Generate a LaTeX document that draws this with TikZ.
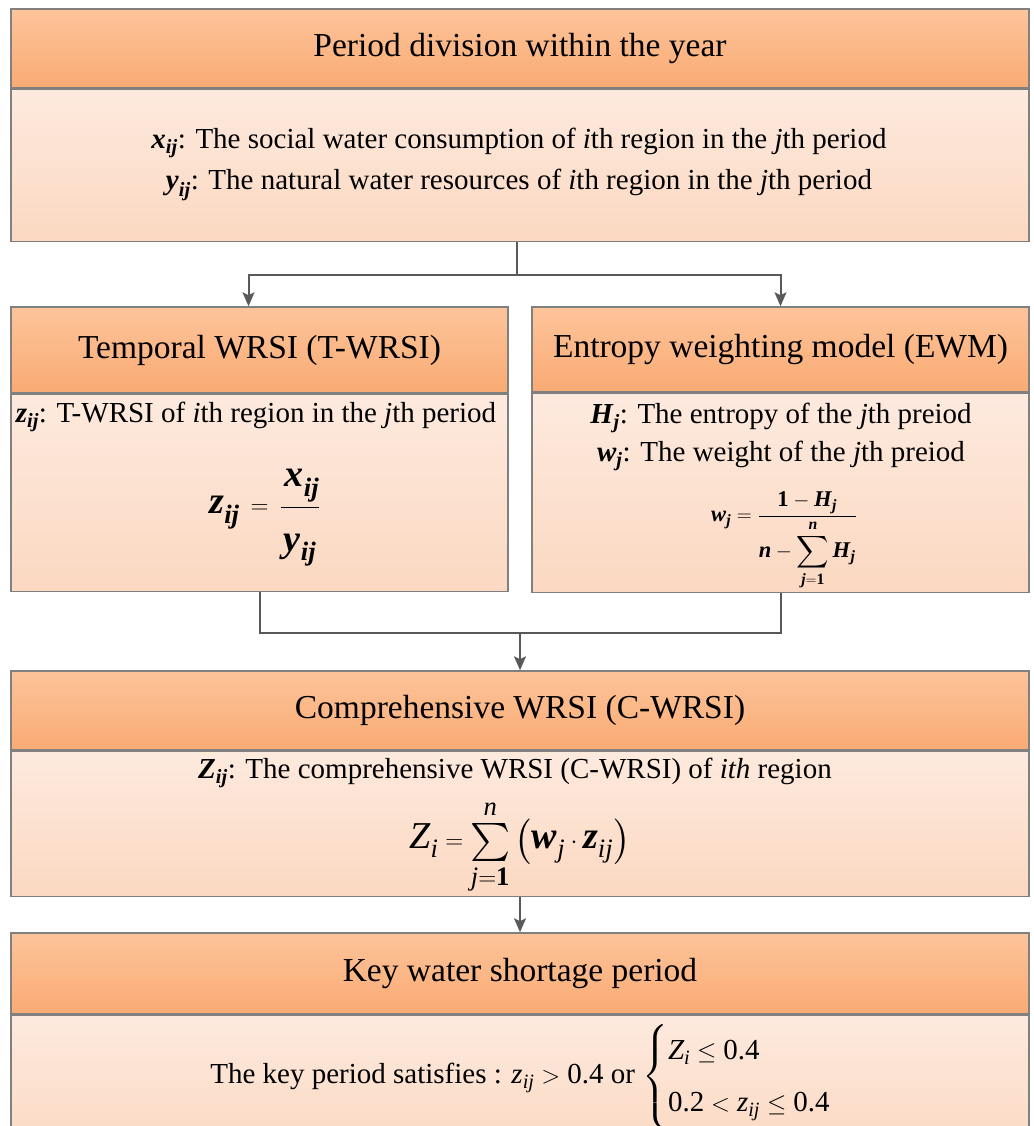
\documentclass[tikz,border=0pt]{standalone}
\usepackage{amsmath,amssymb}
\usepackage{fontspec}
\setmainfont{Liberation Serif}
\usetikzlibrary{shapes,arrows.meta,positioning,calc}
\definecolor{hdtop}{RGB}{253,196,154}
\definecolor{hdbot}{RGB}{249,170,115}
\definecolor{bdtop}{RGB}{253,234,222}
\definecolor{bdbot}{RGB}{251,216,193}
\definecolor{edgegray}{RGB}{128,128,128}
\definecolor{flowgray}{RGB}{89,89,89}
\newcommand{\bi}[1]{\textbf{\textit{#1}}}
\newcommand{\nm}[1]{\textup{#1}}

\begin{document}
\begin{tikzpicture}[x=1pt,y=-1pt,
    headbox/.style={rectangle, draw=edgegray, line width=1.5pt, top color=hdtop,
                    bottom color=hdbot, inner sep=0pt, font=\fontsize{33.5}{40}\selectfont},
    bodybox/.style={rectangle, draw=edgegray, line width=1.5pt, top color=bdtop,
                    bottom color=bdbot, inner sep=0pt},
    bodytext/.style={align=center, inner sep=0pt, font=\fontsize{29}{41}\selectfont},
    formula/.style={inner sep=0pt, font=\fontsize{38}{46}\selectfont},
    link/.style={draw=flowgray, line width=2pt},
    flow/.style={link, -{Stealth[length=14pt,width=12pt,inset=3pt]}}]
    \useasboundingbox (0,0) rectangle (1033,1126);

    % period division
    \node[headbox, minimum width=1018pt, minimum height=79pt] (hdA) at (520,48.5)
        {Period division within the year};
    \node[bodybox, minimum width=1018pt, minimum height=152pt, below=0pt of hdA] (bdA) {};
    \node[bodytext] (vA) at (519,164.5) {
        $\bi{x}_{\bi{ij}}$: The social water consumption of \textit{i}th region in the \textit{j}th period\\
        $\bi{y}_{\bi{ij}}$: The natural water resources of \textit{i}th region in the \textit{j}th period};

    % temporal WRSI
    \node[headbox, minimum width=497pt, minimum height=86pt] (hdB) at (259.5,350)
        {Temporal WRSI (T-WRSI)};
    \node[bodybox, minimum width=497pt, minimum height=197pt, below=0pt of hdB] (bdB) {};
    \node[bodytext] (zB) at (256,417)
        {$\bi{z}_{\bi{ij}}$: T-WRSI of \textit{i}th region in the \textit{j}th period};
    \node[formula] (fB) at (265,518)
        {$\bi{z}_{\bi{ij}} \,=\, \dfrac{\,\bi{x}_{\bi{ij}}\rule[-9pt]{0pt}{0pt}}
          {\rule{0pt}{38pt}\bi{y}_{\bi{ij}}}$};

    % entropy weighting
    \node[headbox, minimum width=497pt, minimum height=85pt] (hdC) at (780.5,349.5)
        {Entropy weighting model (EWM)};
    \node[bodybox, minimum width=497pt, minimum height=199pt, below=0pt of hdC] (bdC) {};
    \node[bodytext, font=\fontsize{29}{38}\selectfont] (hC) at (781,437) {
        $\bi{H}_{\bi{j}}$: The entropy of the \textit{j}th preiod\\
        $\bi{w}_{\bi{j}}$: The weight of the \textit{j}th preiod};
    \node[formula, font=\fontsize{22.5}{27}\selectfont] (fC) at (784,541)
        {$\bi{w}_{\bi{j}} = \dfrac{\textbf{1}-\bi{H}_{\bi{j}}\rule[-6pt]{0pt}{0pt}}
          {\displaystyle\bi{n}-\sum_{\bi{j}=\textbf{1}}^{\bi{n}}\bi{H}_{\bi{j}}}$};

    % comprehensive WRSI
    \node[headbox, minimum width=1018pt, minimum height=79pt] (hdD) at (520,710.5)
        {Comprehensive WRSI (C-WRSI)};
    \node[bodybox, minimum width=1018pt, minimum height=145pt, below=0pt of hdD] (bdD) {};
    \node[bodytext] (zD) at (515,773)
        {$\bi{Z}_{\bi{ij}}$: The comprehensive WRSI (C-WRSI) of \textit{ith} region};
    \node[formula] (fD) at (520,847)
        {$\textit{Z}_{\textit{i}} = \sum\limits_{\textit{j}=\textbf{1}}^{\textit{n}}
          \left(\bi{w}_{\textit{j}}\cdot\bi{z}_{\textit{ij}}\right)$};

    % key period
    \node[headbox, minimum width=1018pt, minimum height=81pt] (hdE) at (520,973.5)
        {Key water shortage period};
    \node[bodybox, minimum width=1018pt, minimum height=140pt, below=0pt of hdE] (bdE) {};
    \node[bodytext, font=\fontsize{29}{35}\selectfont] (kE) at (535,1077)
        {The key period satisfies : $\textit{z}_{\textit{ij}} > \nm{0.4}$ or
         $\begin{cases}\textit{Z}_{\textit{i}} \le \nm{0.4}\\[10pt]
          \nm{0.2} < \textit{z}_{\textit{ij}} \le \nm{0.4}\end{cases}$};

    % connectors
    \coordinate (splitA) at ($(bdA.south)+(-3,33)$);
    \draw[link] (bdA.south -| splitA) -- (splitA);
    \draw[flow] (splitA) -| ([xshift=-11pt]hdB.north);
    \draw[flow] (splitA) -| (hdC.north);
    \coordinate (joinBC) at ($(bdB.south)!0.5!(bdC.south)+(0,40)$);
    \draw[link] (bdB.south) |- (joinBC) -| (bdC.south);
    \draw[flow] (joinBC) -- (hdD.north);
    \draw[flow] (bdD.south) -- (hdE.north);
\end{tikzpicture}
\end{document}
